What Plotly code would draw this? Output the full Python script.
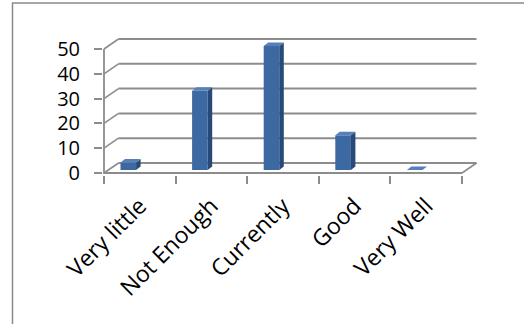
import plotly.graph_objects as go

# ---- data ----
categories = ["Very little", "Not Enough", "Currently", "Good", "Very Well"]
values = [3, 32, 50, 14, 0]
y_ticks = [0, 10, 20, 30, 40, 50]

# ---- layout geometry (pixels) ----
W, H = 524, 324
L, R, T, B = 103, 44, 37, 149
front_left_px, front_right_px = 104, 462
zero_px, top_px = 173, 49
n = len(categories)
cat_px = (front_right_px - front_left_px) / n
unit_px = (zero_px - top_px) / max(y_ticks)
x_range = [-0.5 - (front_left_px - L) / cat_px, n - 0.5 + (W - R - front_right_px) / cat_px]
y_range = [-(H - B - zero_px) / unit_px, (zero_px - T) / unit_px]

# 3D depth of the walls and bars (in axis units)
DX, DY = 14.5 / cat_px, 10 / unit_px
bar_w = 15.6 / cat_px
bar_shift = -11.5 / cat_px
bar_base = 3 / unit_px
bdx, bdy = 4.5 / cat_px, 3.5 / unit_px

GRID = "#8c8c8c"
FRONT = "#3d69a2"
SIDE = "#284a78"
TOP = "#5680b8"

fig = go.Figure()

shapes = []
# back wall gridlines
for v in y_ticks:
    shapes.append(dict(type="line", xref="x", yref="y", layer="below",
                       x0=-0.5 + DX, x1=n - 0.5 + DX, y0=v + DY, y1=v + DY,
                       line=dict(color=GRID, width=2)))
    # left wall diagonals
    shapes.append(dict(type="line", xref="x", yref="y", layer="below",
                       x0=-0.5, x1=-0.5 + DX, y0=v, y1=v + DY,
                       line=dict(color=GRID, width=1.6)))
# right floor edge
shapes.append(dict(type="line", xref="x", yref="y", layer="below",
                   x0=n - 0.5, x1=n - 0.5 + DX, y0=0, y1=DY,
                   line=dict(color=GRID, width=1.6)))
# front axis + floor edge
shapes.append(dict(type="path", xref="x", yref="y", layer="below",
                   path=f"M {-0.5} {max(y_ticks)} L {-0.5} 0 L {n - 0.5} 0",
                   line=dict(color=GRID, width=1.8)))

# chart-area border (partly outside the picture)
pw, ph = W - L - R, H - T - B
def px_x(p):
    return (p - L) / pw
def px_y(p):
    return (H - B - p) / ph
shapes.append(dict(type="rect", xref="paper", yref="paper", layer="below",
                   x0=px_x(12.5), x1=px_x(W + 10), y0=px_y(3), y1=px_y(H + 10),
                   line=dict(color="#8a8a8a", width=1.5)))

xs = list(range(n))
# front faces
fig.add_trace(go.Bar(x=xs, y=values, base=bar_base, width=bar_w,
                     offset=bar_shift - bar_w / 2,
                     marker=dict(color=FRONT, line=dict(width=0)),
                     hoverinfo="skip"))

side_x, side_y, top_x, top_y = [], [], [], []
for i, v in enumerate(values):
    xl = i + bar_shift - bar_w / 2
    xr = i + bar_shift + bar_w / 2
    yb = bar_base
    yt = bar_base + v
    if v > 0:
        side_x += [xr, xr + bdx, xr + bdx, xr, xr, None]
        side_y += [yb, yb + bdy, yt + bdy, yt, yb, None]
    top_x += [xl, xr, xr + bdx, xl + bdx, xl, None]
    top_y += [yt, yt, yt + bdy, yt + bdy, yt, None]

fig.add_trace(go.Scatter(x=side_x, y=side_y, mode="lines", fill="toself",
                         fillcolor=SIDE, line=dict(width=0, color=SIDE),
                         hoverinfo="skip"))
fig.add_trace(go.Scatter(x=top_x, y=top_y, mode="lines", fill="toself",
                         fillcolor=TOP, line=dict(width=0, color=TOP),
                         hoverinfo="skip"))

xfont = dict(family="Open Sans", size=23, color="#000000")
yfont = dict(family="Open Sans", size=20, color="#000000")
fig.update_layout(
    width=W, height=H,
    margin=dict(l=L, r=R, t=T, b=B, pad=0),
    paper_bgcolor="white", plot_bgcolor="rgba(0,0,0,0)",
    showlegend=False,
    shapes=shapes,
    xaxis=dict(range=x_range, tickmode="array", tickvals=xs, ticktext=categories,
               tickangle=-45, ticks="", showgrid=False, zeroline=False,
               showline=False, tickfont=xfont, ticklabelstandoff=12,
               minor=dict(tickmode="array", tickvals=[i - 0.5 for i in range(n + 1)],
                          ticks="outside", ticklen=8, tickwidth=1.6,
                          tickcolor=GRID, showgrid=False)),
    yaxis=dict(range=y_range, tickmode="array", tickvals=y_ticks,
               ticks="outside", ticklen=8, tickwidth=1.6, tickcolor=GRID,
               showgrid=False, zeroline=False, showline=False,
               tickfont=yfont, ticklabelstandoff=10),
)

fig.write_html("out.html")
